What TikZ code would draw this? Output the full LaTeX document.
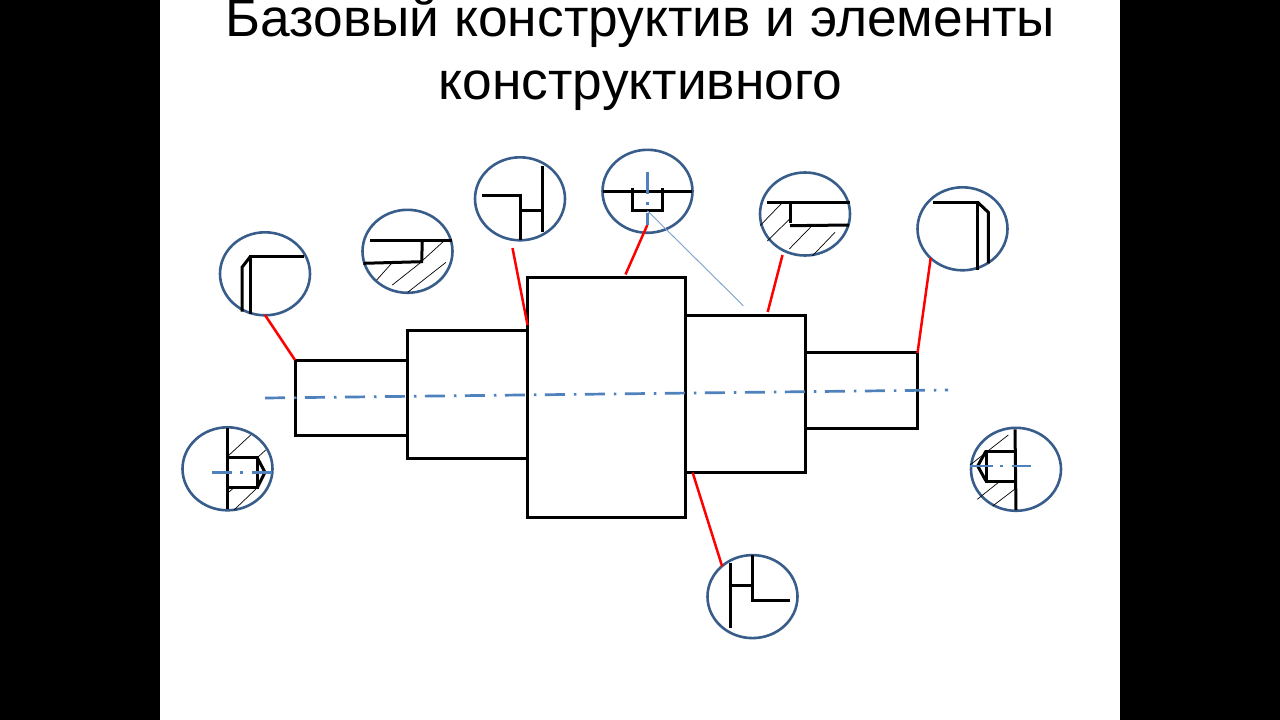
\documentclass[tikz,border=0pt]{standalone}
\usepackage{fontspec}
\setmainfont{Liberation Sans}
\usetikzlibrary{shapes.geometric}
\definecolor{ringblue}{HTML}{385D8A}
\definecolor{axisblue}{HTML}{4F81BD}
\tikzset{
  ring/.style={draw=ringblue,line width=2.6pt,ellipse,minimum width=90pt,minimum height=83pt,inner sep=0pt,outer sep=0pt},
  part/.style={draw=black,line width=3pt,rectangle,inner sep=0pt,outer sep=0pt,anchor=north west},
  edge/.style={draw=black,line width=3pt,line join=miter},
  hatchline/.style={draw=black,line width=0.7pt},
  leader/.style={draw=red,line width=2.5pt},
  axisline/.style={draw=axisblue,line width=2.7pt,dash pattern=on 20pt off 9pt on 2.5pt off 8.5pt},
  axisshort/.style={draw=axisblue,line width=2.8pt},
  titletext/.style={font=\fontsize{53.3}{53.3}\selectfont,anchor=base,inner sep=0pt,text=black}
}
\begin{document}
\begin{tikzpicture}[x=1pt,y=-1pt]
\useasboundingbox (0,0) rectangle (1280,720);
\fill[black] (0,0) rectangle (1280,720);
\fill[white] (160,0) rectangle (1120,720);
\node[titletext] (t1) at (640.5,36) {Базовый конструктив и элементы};
\node[titletext] (t2) at (640.5,99) {конструктивного};

% shaft
\node[part,minimum width=112pt,minimum height=75pt] (s1) at (295,360) {};
\node[part,minimum width=120pt,minimum height=128pt] (s2) at (407.5,330) {};
\node[part,minimum width=157.5pt,minimum height=240pt] (s3) at (527.5,277.5) {};
\node[part,minimum width=120pt,minimum height=157.5pt] (s4) at (685,315) {};
\node[part,minimum width=112.5pt,minimum height=76pt] (s5) at (805,352) {};
\coordinate (axA) at (265,398);
\coordinate (axB) at (948,390);
\draw[axisline] (axA) -- (axB);

% rings
\node[ring] (c1) at (265,273.8) {};
\node[ring] (c2) at (407.5,251.3) {};
\node[ring] (c3) at (520,198.8) {};
\node[ring] (c4) at (647.5,191.3) {};
\node[ring] (c5) at (805,214) {};
\node[ring] (c6) at (962.5,228.8) {};
\node[ring] (c7) at (227.5,468.8) {};
\node[ring] (c8) at (1016,469.3) {};
\node[ring] (c9) at (752.5,596.6) {};

% leaders
\coordinate (l1) at (295,360);
\coordinate (l1a) at (265,315);
\coordinate (l3a) at (512.5,248);
\coordinate (l3b) at (527.5,325);
\coordinate (l4a) at (647.3,225);
\coordinate (l4b) at (625.5,274.5);
\coordinate (l5a) at (782.5,255);
\coordinate (l5b) at (767.7,312);
\coordinate (l6a) at (930.7,258);
\coordinate (l6b) at (917.5,353);
\coordinate (l9a) at (692.7,472.7);
\coordinate (l9b) at (722.2,566.5);
\draw[leader] (l1a) -- (l1);
\draw[leader] (l3a) -- (l3b);
\draw[leader] (l4a) -- (l4b);
\draw[leader] (l5a) -- (l5b);
\draw[leader] (l6a) -- (l6b);
\draw[leader] (l9a) -- (l9b);

% detail 1
\draw[edge] (304.3,256) -- (250,256) -- (250,314);
\draw[edge] (250,257) -- (242,267.3) -- (242,311.7);
% detail 2
\draw[edge] (370,240) -- (452,240);
\draw[edge] (422.3,240) -- (421.7,261.7) -- (363.3,263.3);
\draw[hatchline] (391,264) -- (376.7,280);
\draw[hatchline] (421.7,261.7) -- (392.3,285);
\draw[hatchline] (445,240) -- (422.3,260.7);
\draw[hatchline] (446,262.3) -- (407.7,292.3);
% detail 3
\draw[edge] (482.3,195) -- (520,195) -- (520,240);
\draw[edge] (520,210) -- (542.3,210);
\draw[edge] (542.3,166) -- (542.3,232.3);
% detail 4
\draw[edge] (602.7,191) -- (692.3,191);
\draw[edge] (632.3,187.7) -- (632.3,210) -- (662.7,210) -- (662.7,187.7);
\draw[axisshort] (647.3,172.3) -- (647.3,193.5);
\draw[axisshort] (647.3,201.5) -- (647.3,204.5);
\draw[axisshort] (647.3,212.7) -- (647.3,225);
\coordinate (thinA) at (647.3,210.7);
\coordinate (thinB) at (743.3,305.7);
\draw[draw=axisblue!75!white,line width=0.9pt] (thinA) -- (thinB);
% detail 5
\draw[edge] (767.3,202.3) -- (850,202.3);
\draw[edge] (790,202.3) -- (790,223.3);
\draw[edge] (790,225.7) -- (849,225);
\draw[hatchline] (781.7,203.3) -- (760,225.7);
\draw[hatchline] (789.3,219.3) -- (767.3,241);
\draw[hatchline] (811,226.7) -- (789.3,249);
\draw[hatchline] (835,232.3) -- (812.3,256);
% detail 6
\draw[edge] (932.7,202.3) -- (977.7,202.3) -- (977.7,270);
\draw[edge] (977.7,202.3) -- (988.3,212.3) -- (988.3,263.3);
% detail 7
\draw[edge] (227.3,428.3) -- (227.3,509.3);
\draw[edge] (227.3,457.7) -- (257.3,457.7) -- (257.3,487.7) -- (227.3,487.7);
\draw[edge] (257.3,457.7) -- (265,472.3) -- (257.3,487.7);
\draw[hatchline] (227.3,456.7) -- (250.7,435);
\draw[hatchline] (257.3,457.7) -- (265.7,450);
\draw[hatchline] (227.3,493.3) -- (233.3,488.3);
\draw[hatchline] (234,510) -- (257.3,487.7);
\draw[axisshort] (212.3,472.3) -- (231.7,472.3);
\draw[axisshort] (239.5,472.3) -- (242.5,472.3);
\draw[axisshort] (251.7,472.3) -- (271.7,472.3);
% detail 8
\draw[edge] (1015,429.3) -- (1016,510);
\draw[edge] (1015,451) -- (986,451) -- (986,481) -- (1015.7,481);
\draw[edge] (986,451) -- (977.7,466) -- (986,481);
\draw[hatchline] (1008.3,435) -- (970,465);
\draw[hatchline] (999.3,481.7) -- (977.3,499.3);
\draw[hatchline] (1015,489) -- (992.7,506);
\draw[axisshort] (970,466) -- (993.3,466);
\draw[axisshort] (1000.2,466) -- (1003.2,466);
\draw[axisshort] (1011.7,466) -- (1030.7,466);
% detail 9
\draw[edge] (730,562.7) -- (730,628.3);
\draw[edge] (730,585) -- (752.3,585);
\draw[edge] (752.3,555) -- (752.3,600) -- (790,600);
\end{tikzpicture}
\end{document}
